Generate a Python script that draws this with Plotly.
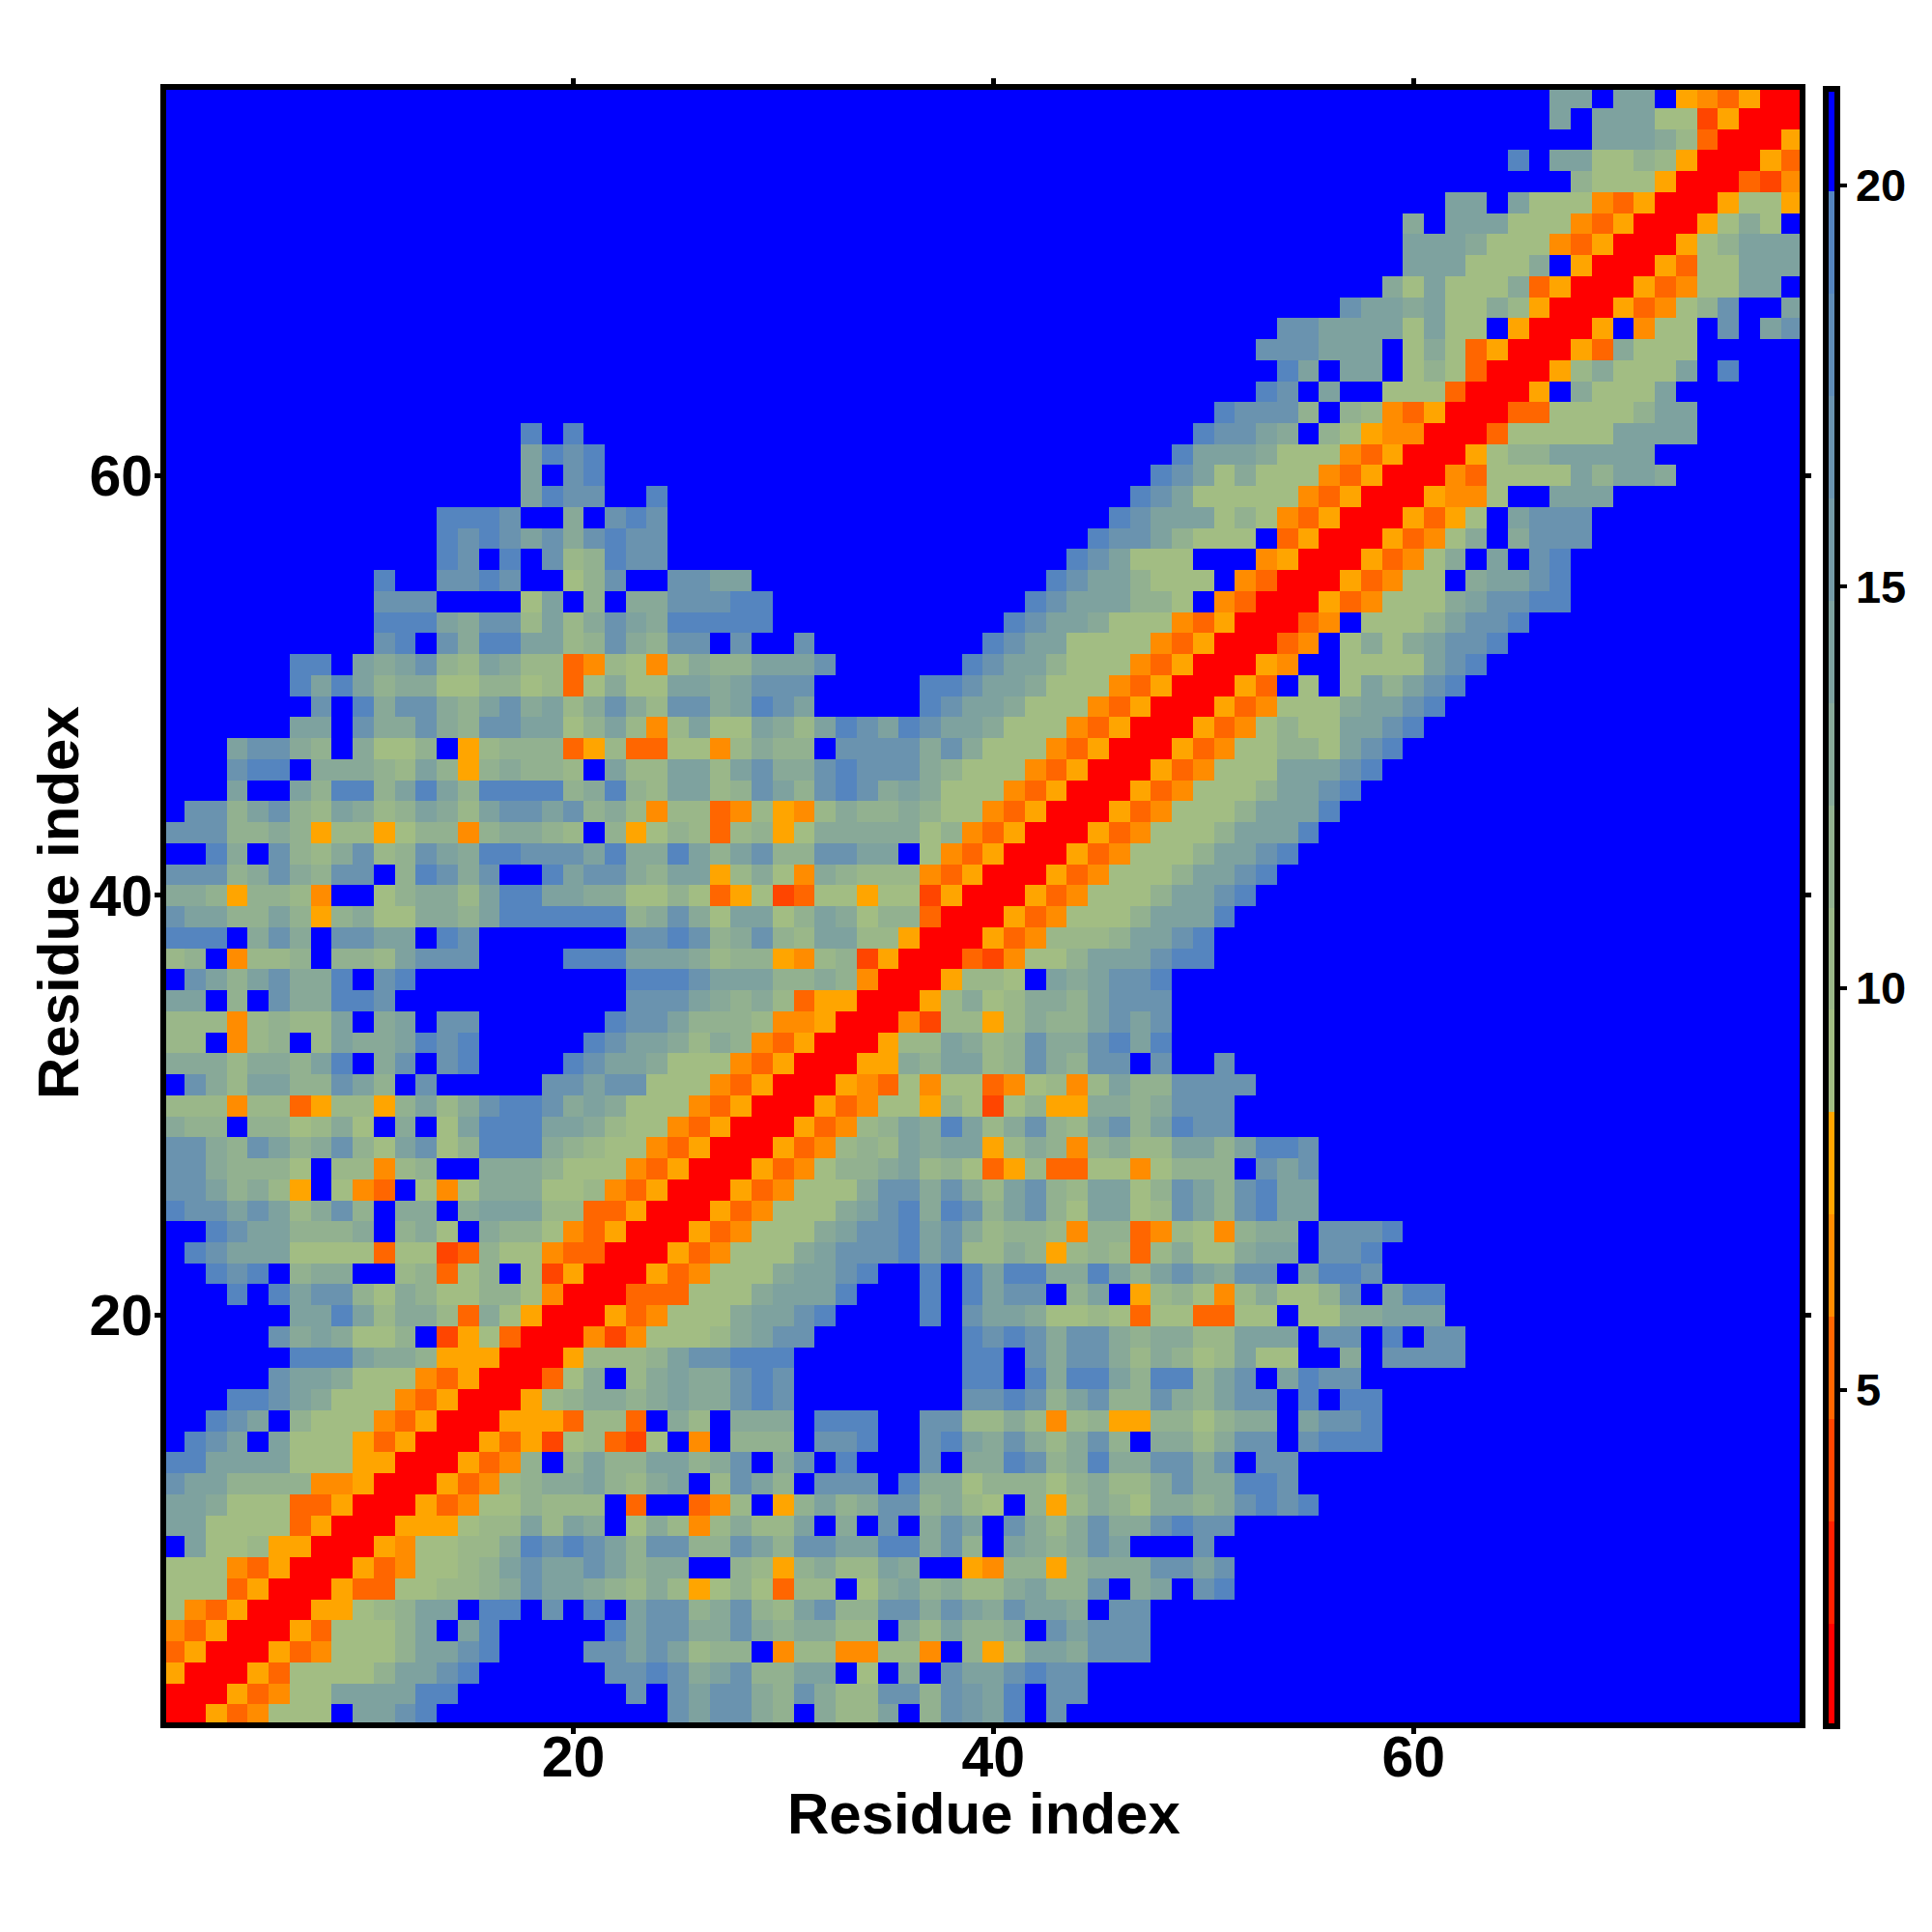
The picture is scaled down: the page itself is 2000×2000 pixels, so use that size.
import plotly.graph_objects as go

CODES = {"R": 1.45, "r": 4.00, "O": 5.27, "M": 6.54, "o": 7.82, "a": 9.09, "b": 10.37, "c": 11.64,
         "d": 12.92, "e": 14.19, "f": 15.46, "g": 16.74, "h": 18.01, "i": 19.29, "B": 20.56}
# bottom row (residue 1) first; groups of ten columns, blue fills the rest of a row
ROWS = [
"RRoOMaaaBe egiBBBBBBB BBBBgeggdc BdbbeBcgfe iBg",
"RRRoOMaaee eeiiBBBBBB BBgBgeggdc gdbbggcgfe iBgg",
"oRRRoOaaaa ceegiBBBBB Bggigdegcc eeBaBdBgee gigg",
"OoRRRoOMaa aceegiBBBB ggegebccBM bbMMbbMBco beedggg",
"MOoRRRoOaa aceBeiBBBB Bieggddgdc ddbbBdbecc dBgeggg",
"aMOoRRRooa bceeBiiBgB iBeggcdgcb egccggdged geedBgg",
"aaaOoRRRoO Oaabbcdgee dcbdboacaO bbBadecdbb deccgBdeBgi",
"aaaMOoRRRo OMaabcegee gecddBBcbo cdbbedBBoM ccocdddggeg",
"BeaabooRRR oMaabbdigi gecggccgec ggeeiidgcB edcdgeBBBgB",
"eeaaaaOoRR Roooabbebe dBadbMbdbb eBdBgBdgeB gdbdgddgigg",
"eedaaaOOoR RRoOMaacbb bBOBBOMbBo cecdggcdba Bcobdcaddcdgigi",
"geeccccMMo RRRoOMbcdd ecbdeBbgec BgggBiddac ccacdbbdgddiig",
"iieeeeaaao oRRRoOMcBc ecceecdgBd gBiBBBgBdd igcdiddggdgBgg",
"BigeBeaaao OoRRRoOora bOraBMBccc BggiBBgied gdbdgcBddbdggBgiii",
"BBigeBcaaa MOoRRRoooO bbOBdbBddd BiiiBBggbb dbMbcooccacddBeggi",
"BBBiigedaa aMOoRRRobc ddcdeddgig BBBBBBBBgg igcegccgdceggBiBii",
"BBBBBgeeda aaMOoRRROa dBbdeddgig BBBBBBBBii BidiieciicegBeigg",
"BBBBBBiiie ddcoooRRRo bbbceggiii BBBBBBBBii BgdggdbdcabeaaBBdBgggg",
"BBBBBgdeda acBroaORRR MrMaaabdeg gBBBBBBBig igdggdcddbbeeeBggBiBgg",
"BBBBBBeeie bddbOdaoRR RoOMaaadee giBBBBiBge edaabaOaaOOaaBaaddeee",
"BBBiBieggc adcaaccaMR RROOOaaade eeiBBBiBie ggBceBobcaMbdaacgBeii",
"BBigiBcddB BbcOacBaro RRRoOMaaad eegiBBiBie iiddiecegedggBeiig",
"Bigeeeaaaa OaarOcaaMO ORRRoOMaaa degggiegbb dcobcbObdaadeeBggi",
"BBigeecccd BcdaBdccaM OoRRRoOMaa adeggiegdb ccbMccOMbaMcddBgggi",
"iggegebdgc BddBdeeebb OOoRRRoOMa aadegidigc egcaeeabgecgiee",
"ggecdboBaM OBaMadddaa bMOoRRRoOM aaadggdgdb egcbeeacgecgiee",
"ggdcccaBbb MbcBBdddca aaMOoRRRoO MaccdebcaO obOOaaMacccBgeg",
"ggdcgecdgc aegaciiidc baaMOoRRRo OMbcbedeeo bdcMcdbbeeceiig",
"dccBccabda BdBaeiiiee dbaaMOoRRR oOMbcedieb dgcbegceigg",
"bbbMbbOobb ocebdgiigd edaaaMOoRR RoOMaaocar acooddcdggg",
"Bgdbeeccge cBgBBBBBgg eggaaaMOoR RRoMOaMaaO MabMbeccgggg",
"dddbddceiB dgBgiBBBBi geedaaaMOo RRRoodceeb cgdcggBgBBg",
"bbBMbcBbed deigiBBBBB igeedbdcMO oRRRobbedb cgddgiei",
"bbbMbcbbeB deBggBBBBB BiggecccbM MoRRRMrbbo bdccegeg",
"eeBcBgddii gBBBBBBBBB BBgggedcdb OooRRRobda bddceggg",
"BgecegddiB giBBBBBBBB BBiiigeeec cdcMRRRobb aBedeggi",
"bcBMbbcBcc begggBBBBi iieeedbcco MbcroRRROr Maaceeegii",
"iiiBdgdBgg eeBigBBBBB BBggigcdgc beebboRRRo OMbbbceegi",
"geeccecocd aaddceiiii iicdgdaeea cedaccORRR oOMaaaceeei",
"ddcoccbMBB acddbeiiee ddaacaOoar OaaoaaroRR RoOMaaaceegi",
"gggcdgdcgg BcigdgBBie ggdceeobda MdcbbbMOoR RRoOMaaaceegi",
"BBidBgcbdg bcgediiggg eiddiecegc cggeeBaMOo RRRoOMaaaceegi",
"gggccdcobb oaccMcddcb BcoacbObco adddddacMO oRRRoOMaaaceeei",
"Bggcegcbed bcedbeggeg cdbMbbOMbo MbdccdcaaM OoRRRoOMaaaceeei",
"BBBeBBecii ceieciiiic dicbeebcge cgigdedaaa MOoRRRoOMaaaceegi",
"BBBgiiBddd cbecocdccb Bebbeebegd dgigggdcaa aMOoRRRoOMaaaeeegi",
"BBBeggdcBd aacBobcccO obOOaaMbdc cBggggdgda aaMOoRRRoOMaaccaegi",
"BBBBBBeeBg ddgdcggeea cebMbeaaed beigeigeed aaaMOoRRRoOMacaaeegi",
"BBBBBBBgBi dggdcegdeb dgdbggdeig eBBBBBigee daaaMOoRRRoOMaaadeegi",
"BBBBBBieie cddaaccabO adaaeedegg gBBBBBiige edaaaMOoRRRoOBaBaecegi",
"BBBBBBiiBe degcbedbbO MbaMbdccee egBBBBBBig eecaaaMOoRRRoMBBaaaaegi",
"BBBBBBBBBB giBgdiieeb cgdcggBgBB gBBBBBBBBi geeaaaaMOoRRROMBadadeggi",
"BBBBBBBBBB iiiedggbeb dgediiiiiB BBBBBBBBBB igeedaaaMOoRRROMBaaaceggi",
"BBBBBBBBBB gggBBBBaeB cBddgggiiB BBBBBBBBBB BigeeeccaBMORRRoOMaaadeggii",
"BBBBBBBBBB iBBggigBBa cgBBggeeBB BBBBBBBBBB BBigeecaaaBMORRRoOMaaBdeegi",
"BBBBBBBBBB BBBigBiBgb ciggBBBBBB BBBBBBBBBB BBBigeaaaBBBMoRRRoOMadBeBgi",
"BBBBBBBBBB BBBigigegd giggBBBBBB BBBBBBBBBB BBBBiggecaaaBOoRRRoOMadBdggg",
"BBBBBBBBBB BBBiiigBBd BgigBBBBBB BBBBBBBBBB BBBBBigeeeacaMOoRRRoOoaBeggg",
"BBBBBBBBBB BBBBBBBeig gBBiBBBBBB BBBBBBBBBB BBBBBBigea aaaaMOoRRR oMMaBBeee",
"BBBBBBBBBB BBBBBBBeBg iBBBBBBBBB BBBBBBBBBB BBBBBBBige adaaaMOoRR RMOaaaaeceed",
"BBBBBBBBBB BBBBBBBeig iBBBBBBBBB BBBBBBBBBB BBBBBBBBie eedaaaMOoR RRoacceeeee",
"BBBBBBBBBB BBBBBBBiBi BBBBBBBBBB BBBBBBBBBB BBBBBBBBBi ggedBcaoMM RRROaaaaaeeee",
"BBBBBBBBBB BBBBBBBBBB BBBBBBBBBB BBBBBBBBBB BBBBBBBBBB igggcBcbMO oRRROOaaaacee",
"BBBBBBBBBB BBBBBBBBBB BBBBBBBBBB BBBBBBBBBB BBBBBBBBBB BBigBeBBaa aORRRoBdaaae",
"BBBBBBBBBB BBBBBBBBBB BBBBBBBBBB BBBBBBBBBB BBBBBBBBBB BBBieBeeBa caORRRobdaaaeBi",
"BBBBBBBBBB BBBBBBBBBB BBBBBBBBBB BBBBBBBBBB BBBBBBBBBB BBgggeeeBa daOoRRRoOdaaa",
"BBBBBBBBBB BBBBBBBBBB BBBBBBBBBB BBBBBBBBBB BBBBBBBBBB BBBggeeeea eaaBoRRRoBMaaBgBeg",
"BBBBBBBBBB BBBBBBBBBB BBBBBBBBBB BBBBBBBBBB BBBBBBBBBB BBBBBBgeed eaadboRRRoOMacgBBe",
"BBBBBBBBBB BBBBBBBBBB BBBBBBBBBB BBBBBBBBBB BBBBBBBBBB BBBBBBBBda eaaadOoRRRoOMaaeeB",
"BBBBBBBBBB BBBBBBBBBB BBBBBBBBBB BBBBBBBBBB BBBBBBBBBB BBBBBBBBBe eeaaadBoRRRoOaaeee",
"BBBBBBBBBB BBBBBBBBBB BBBBBBBBBB BBBBBBBBBB BBBBBBBBBB BBBBBBBBBe eedaaaMOoRRRoaceee",
"BBBBBBBBBB BBBBBBBBBB BBBBBBBBBB BBBBBBBBBB BBBBBBBBBB BBBBBBBBBd BeeeaaaMOoRRRoadaB",
"BBBBBBBBBB BBBBBBBBBB BBBBBBBBBB BBBBBBBBBB BBBBBBBBBB BBBBBBBBBB BeeBeaaaMOoRRRoaao",
"BBBBBBBBBB BBBBBBBBBB BBBBBBBBBB BBBBBBBBBB BBBBBBBBBB BBBBBBBBBB BBBBBBBcaaaoRRRO rM",
"BBBBBBBBBB BBBBBBBBBB BBBBBBBBBB BBBBBBBBBB BBBBBBBBBB BBBBBBBBBB BBBBiBeeaacboRRRoO",
"BBBBBBBBBB BBBBBBBBBB BBBBBBBBBB BBBBBBBBBB BBBBBBBBBB BBBBBBBBBB BBBBBBBBeeedbORRRo",
"BBBBBBBBBB BBBBBBBBBB BBBBBBBBBB BBBBBBBBBB BBBBBBBBBB BBBBBBBBBB BBBBBBeBeeeaaroRRR",
"BBBBBBBBBB BBBBBBBBBB BBBBBBBBBB BBBBBBBBBB BBBBBBBBBB BBBBBBBBBB BBBBBBeeBeeBoMOoRR",
]
TICKS = [20, 40, 60]
CB_TICKS = [5, 10, 15, 20]
RESIDUES = list(range(1, 79))
ZMIN, ZMAX = 0.81, 21.2
LEVEL_COLOURS = ["#FF0000", "#FF2000", "#FF4500", "#FF6600", "#FF8C00", "#FFA500",
                 "#A2BD83", "#9AB789", "#92B190", "#88A998", "#7EA29F", "#749AA7",
                 "#6A93AF", "#5F8CB7", "#5585BF", "#0000FF"]

z = []
for n, row in enumerate(ROWS):
    s = row.replace(" ", "")
    if len(s) > 78:
        raise ValueError(f"row {n+1} has {len(s)}")
    s = s.ljust(78, "B")
    z.append([CODES[ch] for ch in s])

scale = []
for i, col in enumerate(LEVEL_COLOURS):
    scale.append([i / 16, col])
    scale.append([(i + 1) / 16, col])

FONT = "Liberation Sans"
fig = go.Figure(go.Heatmap(
    x=RESIDUES, y=RESIDUES[:len(z)], z=z, zmin=ZMIN, zmax=ZMAX, colorscale=scale,
    colorbar=dict(
        thickness=12, thicknessmode="pixels", lenmode="fraction",
        len=(1787 - 92) / 2000, y=(2000 - (1787 + 92) / 2) / 2000, yanchor="middle", yref="paper",
        x=1890 / 2000, xanchor="left", xref="paper", xpad=0, ypad=0,
        outlinewidth=6, outlinecolor="black", borderwidth=0,
        tickmode="array", tickvals=CB_TICKS, ticks="outside", ticklen=7, tickwidth=4, tickcolor="black",
        tickfont=dict(family=FONT, size=47, color="black", weight="bold"),
    ),
))
axis = dict(
    showgrid=False, zeroline=False, showline=True, linewidth=6, linecolor="black", mirror="ticks",
    ticks="outside", ticklen=6, tickwidth=5, tickcolor="black", tickmode="array", tickvals=TICKS,
    tickfont=dict(family=FONT, size=59, color="black", weight="bold"),
    range=[0.62, 78.38],
)
TITLE_FONT = dict(family=FONT, size=60, color="black", weight="bold")
fig.update_layout(
    width=2000, height=2000, autosize=False, margin=dict(l=0, r=0, t=0, b=0),
    paper_bgcolor="white", plot_bgcolor="white",
    xaxis=dict(axis, domain=[172 / 2000, 1863 / 2000], anchor="y", ticklabelstandoff=-27),
    yaxis=dict(axis, domain=[(2000 - 1783) / 2000, (2000 - 92.7) / 2000], anchor="x", ticklabelstandoff=-10),
    annotations=[
        dict(text="Residue index", xref="paper", yref="paper", x=1018 / 2000, y=(2000 - 1877) / 2000,
             xanchor="center", yanchor="middle", showarrow=False, font=TITLE_FONT),
        dict(text="Residue index", xref="paper", yref="paper", x=60 / 2000, y=(2000 - 935) / 2000,
             xanchor="center", yanchor="middle", showarrow=False, textangle=-90, font=TITLE_FONT),
    ],
)
fig.write_html("out.html", post_script="document.body.style.margin='0';", config={"displayModeBar": False})
